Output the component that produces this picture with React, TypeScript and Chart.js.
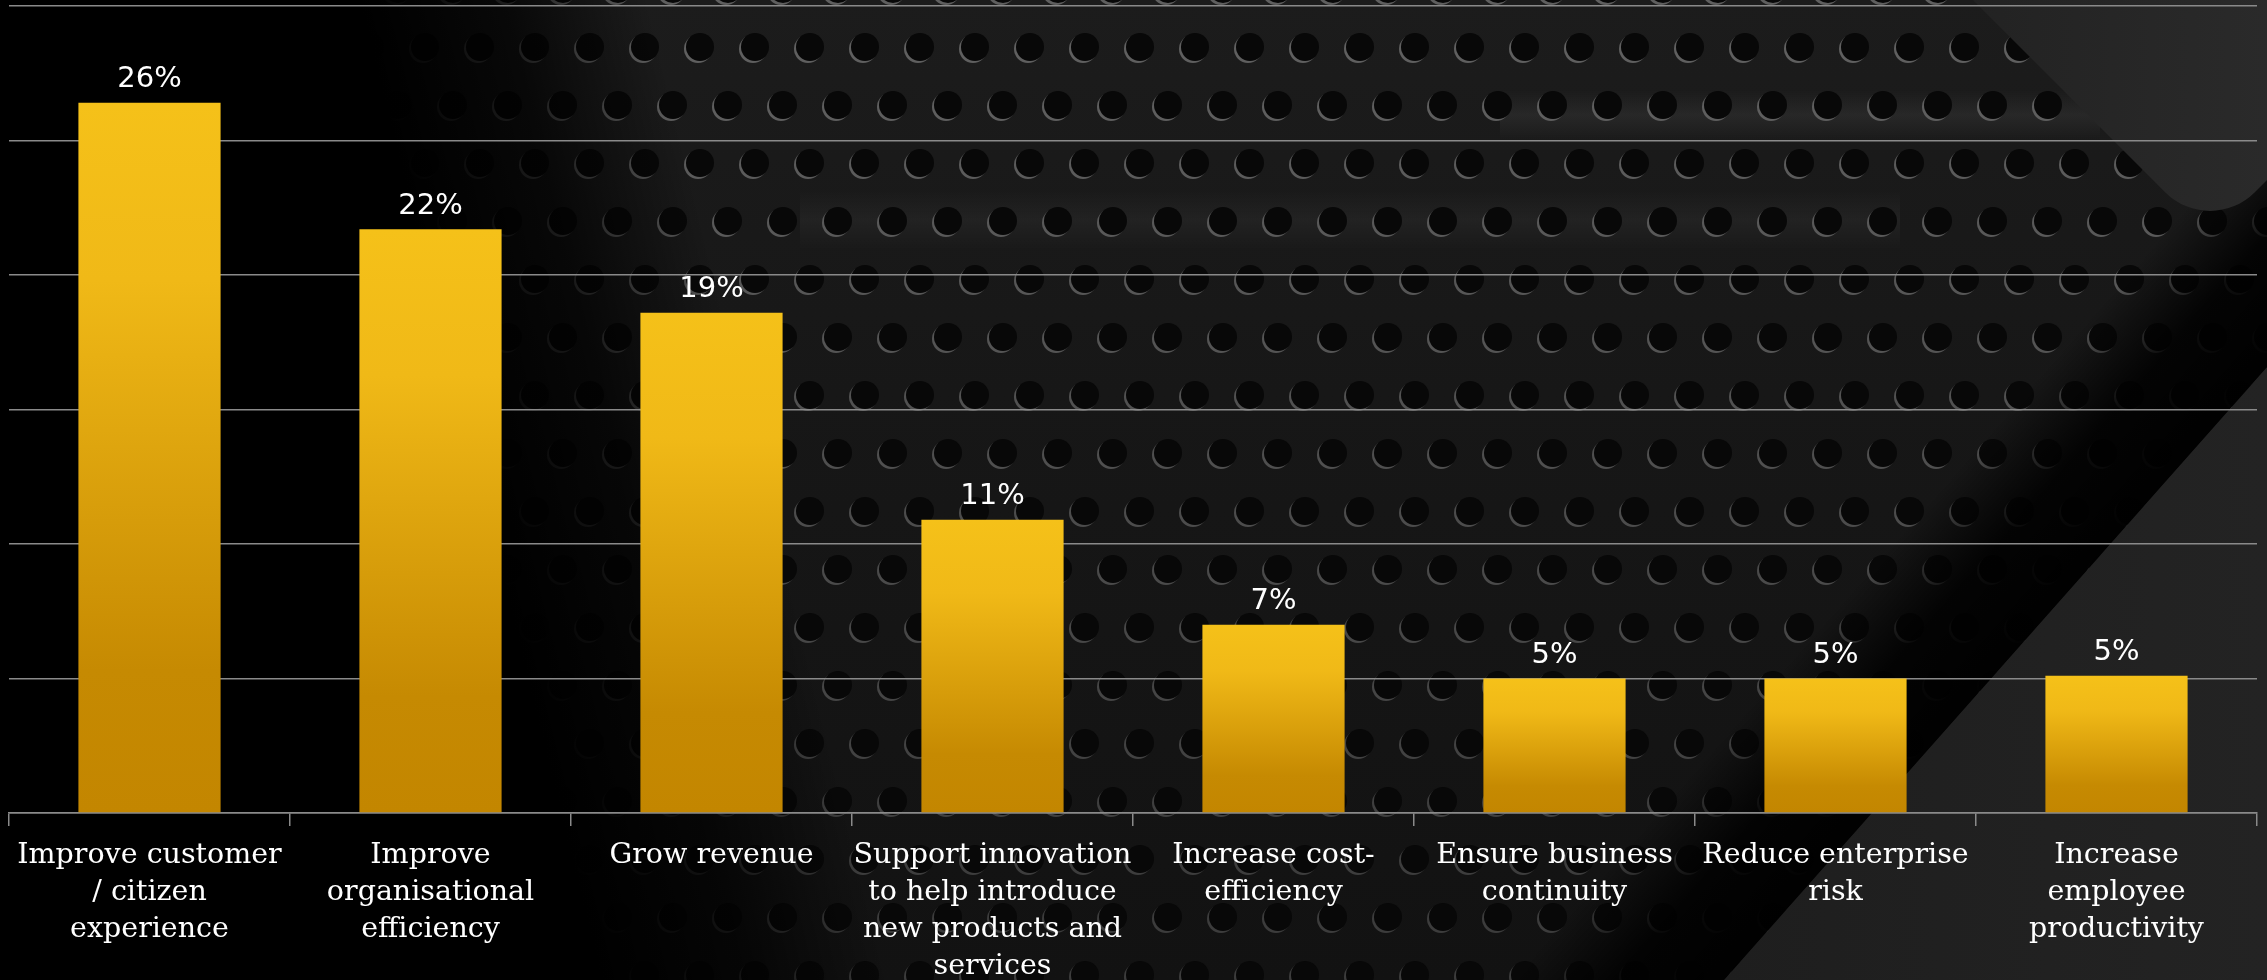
import React, { useEffect, useRef } from "react";
import { Chart, registerables } from "chart.js";

Chart.register(...registerables);

const categories: string[][] = [
  ["Improve customer", "/ citizen", "experience"],
  ["Improve", "organisational", "efficiency"],
  ["Grow revenue"],
  ["Support innovation", "to help introduce", "new products and", "services"],
  ["Increase cost-", "efficiency"],
  ["Ensure business", "continuity"],
  ["Reduce enterprise", "risk"],
  ["Increase", "employee", "productivity"],
];
const shares: number[] = [26.4, 21.7, 18.6, 10.9, 7.0, 5.0, 5.0, 5.1];
const yMin = 0;
const yMax = 30;
const yStep = 5;

const W = 2267;
const H = 980;

function circle(ctx: CanvasRenderingContext2D, x: number, y: number, r: number) {
  ctx.beginPath();
  ctx.arc(x, y, r, 0, Math.PI * 2);
  ctx.fill();
}

const backgroundPlugin = {
  id: "metalBackground",
  beforeDraw(chart: any) {
    const ctx: CanvasRenderingContext2D = chart.ctx;
    const w = chart.width;
    const h = chart.height;
    ctx.save();
    // base
    const vg = ctx.createLinearGradient(0, 0, 0, h);
    vg.addColorStop(0, "#1c1c1c");
    vg.addColorStop(0.4, "#171717");
    vg.addColorStop(1, "#121212");
    ctx.fillStyle = vg;
    ctx.fillRect(0, 0, w, h);

    // subtle light streaks
    const sg = ctx.createLinearGradient(0, 90, 0, 140);
    sg.addColorStop(0, "rgba(255,255,255,0)");
    sg.addColorStop(0.5, "rgba(255,255,255,0.06)");
    sg.addColorStop(1, "rgba(255,255,255,0)");
    ctx.fillStyle = sg;
    ctx.fillRect(1500, 90, 600, 50);
    const sg2 = ctx.createLinearGradient(0, 190, 0, 250);
    sg2.addColorStop(0, "rgba(255,255,255,0)");
    sg2.addColorStop(0.5, "rgba(255,255,255,0.04)");
    sg2.addColorStop(1, "rgba(255,255,255,0)");
    ctx.fillStyle = sg2;
    ctx.fillRect(800, 190, 1100, 60);

    // perforated dots
    for (let r = -1; ; r++) {
      const cy = 47 + 58 * r;
      if (cy > h + 20) break;
      const off = ((r % 2) + 2) % 2 === 0 ? 40 : 13;
      const fade = Math.max(0, Math.min(1, (cy - 80) / 800));
      const lv = Math.round(95 - 35 * fade);
      for (let cx = off - 55; cx < w + 30; cx += 55) {
        ctx.fillStyle = `rgb(${lv},${lv},${lv})`;
        circle(ctx, cx - 2, cy + 2, 14);
        ctx.fillStyle = "#080808";
        circle(ctx, cx, cy, 14);
      }
    }

    // left black fade (slanted)
    const lg = ctx.createLinearGradient(360, 0, 632, -67);
    lg.addColorStop(0, "rgba(0,0,0,1)");
    lg.addColorStop(0.5, "rgba(0,0,0,0.7)");
    lg.addColorStop(1, "rgba(0,0,0,0)");
    ctx.fillStyle = lg;
    ctx.fillRect(0, 0, 1000, h);

    // black band along lower-right shape
    const bg = ctx.createLinearGradient(2090, 560, 1970, 455);
    bg.addColorStop(0, "rgba(0,0,0,0.97)");
    bg.addColorStop(0.5, "rgba(0,0,0,0.85)");
    bg.addColorStop(1, "rgba(0,0,0,0)");
    ctx.fillStyle = bg;
    ctx.beginPath();
    ctx.moveTo(2300, 0);
    ctx.lineTo(2300, 330);
    ctx.lineTo(1640, 1075);
    ctx.lineTo(1340, 1075);
    ctx.lineTo(1880, 0);
    ctx.closePath();
    ctx.fill();

    // top-right gray shape
    const tg = ctx.createLinearGradient(1960, 0, 2267, 0);
    tg.addColorStop(0, "#222222");
    tg.addColorStop(1, "#2a2a2a");
    ctx.fillStyle = tg;
    ctx.beginPath();
    ctx.moveTo(1953, -20);
    ctx.arcTo(2210, 237, 2300, 147, 63);
    ctx.lineTo(2300, 147);
    ctx.lineTo(2300, -20);
    ctx.closePath();
    ctx.fill();

    // lower-right gray shape
    const rg = ctx.createLinearGradient(1720, 0, 2267, 0);
    rg.addColorStop(0, "#1e1e1e");
    rg.addColorStop(1, "#232323");
    ctx.fillStyle = rg;
    ctx.beginPath();
    ctx.moveTo(2300, 330);
    ctx.arcTo(1640, 1075, 1740, 1160, 60);
    ctx.lineTo(1740, 1160);
    ctx.lineTo(2300, 1160);
    ctx.closePath();
    ctx.fill();

    ctx.restore();
  },
};

const valueLabelPlugin = {
  id: "valueLabels",
  afterDatasetsDraw(chart: any) {
    const ctx: CanvasRenderingContext2D = chart.ctx;
    const meta = chart.getDatasetMeta(0);
    const data = chart.data.datasets[0].data as number[];
    ctx.save();
    ctx.fillStyle = "#ffffff";
    ctx.font = '29px "DejaVu Sans"';
    ctx.textAlign = "center";
    ctx.textBaseline = "middle";
    meta.data.forEach((bar: any, i: number) => {
      ctx.fillText(`${Math.round(data[i])}%`, bar.x, bar.y - 23);
    });
    ctx.restore();
  },
};

export default function App() {
  const canvasRef = useRef<HTMLCanvasElement | null>(null);

  useEffect(() => {
    const canvas = canvasRef.current;
    if (!canvas) return;
    const gridColor = "#8a8a8a";
    const chart = new Chart(canvas, {
      type: "bar",
      data: {
        labels: categories,
        datasets: [
          {
            data: shares,
            categoryPercentage: 1,
            barPercentage: 0.506,
            borderWidth: 0,
            backgroundColor: (c: any) => {
              const ch = c.chart;
              if (!ch.chartArea || c.type !== "data") return "#EDB515";
              const ys = ch.scales.y;
              const top = ys.getPixelForValue(c.raw as number);
              const base = ys.getPixelForValue(0);
              const g = ch.ctx.createLinearGradient(0, top, 0, base);
              g.addColorStop(0, "#F5C119");
              g.addColorStop(0.25, "#F0B917");
              g.addColorStop(0.8, "#C68A02");
              g.addColorStop(1, "#C38600");
              return g;
            },
          },
        ],
      },
      options: {
        responsive: false,
        animation: false,
        devicePixelRatio: 1,
        layout: { padding: { left: 9, right: 10, top: 6, bottom: 0 } },
        plugins: {
          legend: { display: false },
          tooltip: { enabled: false },
        },
        scales: {
          x: {
            grid: {
              display: true,
              drawOnChartArea: false,
              drawTicks: true,
              tickLength: 13,
              color: gridColor,
              lineWidth: 1.5,
            },
            border: { display: true, color: gridColor, width: 1.5 },
            ticks: {
              color: "#ffffff",
              font: { family: '"DejaVu Serif"', size: 28.5, lineHeight: 1.3 },
              padding: 11,
              maxRotation: 0,
              minRotation: 0,
              autoSkip: false,
            },
            afterFit: (scale: any) => {
              scale.height = 167;
            },
          },
          y: {
            min: yMin,
            max: yMax,
            ticks: { stepSize: yStep, display: false },
            grid: { color: gridColor, lineWidth: 1.5, drawTicks: false },
            border: { display: false },
            afterFit: (scale: any) => {
              scale.width = 0;
            },
          },
        },
      },
      plugins: [backgroundPlugin, valueLabelPlugin],
    });
    return () => chart.destroy();
  }, []);

  return (
    <div
      style={{
        position: "fixed",
        left: 0,
        top: 0,
        width: W,
        height: H,
        overflow: "hidden",
        background: "#000",
      }}
    >
      <canvas
        ref={canvasRef}
        width={W}
        height={H}
        style={{ display: "block", width: W, height: H }}
      />
    </div>
  );
}
